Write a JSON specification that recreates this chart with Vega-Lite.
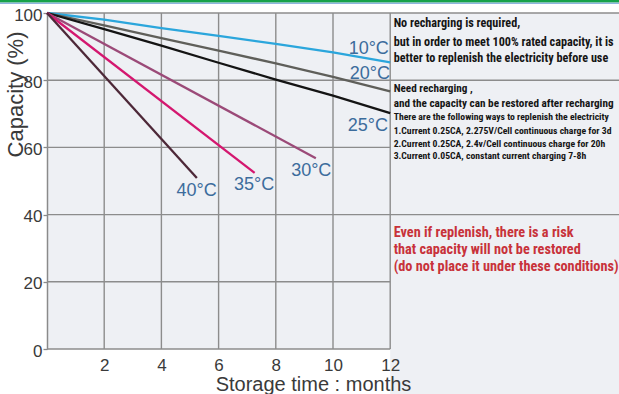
{
  "$schema": "https://vega.github.io/schema/vega-lite/v6.json",
  "width": 572,
  "height": 336,
  "autosize": {"type": "none"},
  "padding": {"left": 47, "top": 13, "right": 0, "bottom": 45},
  "background": "white",
  "config": {"view": {"fill": "#eef0f4", "stroke": null}, "font": "Liberation Sans"},
  "datasets": {
    "grid": [
      {"month": 2, "month2": 2, "capacity": 0, "capacity2": 100},
      {"month": 4, "month2": 4, "capacity": 0, "capacity2": 100},
      {"month": 6, "month2": 6, "capacity": 0, "capacity2": 100},
      {"month": 8, "month2": 8, "capacity": 0, "capacity2": 100},
      {"month": 10, "month2": 10, "capacity": 0, "capacity2": 100},
      {"month": 12, "month2": 12, "capacity": 0, "capacity2": 100},
      {"month": 0, "month2": 12, "capacity": 20, "capacity2": 20},
      {"month": 0, "month2": 20, "capacity": 40, "capacity2": 40},
      {"month": 0, "month2": 12, "capacity": 60, "capacity2": 60},
      {"month": 0, "month2": 20, "capacity": 80, "capacity2": 80},
      {"month": 0, "month2": 20, "capacity": 100, "capacity2": 100},
      {"month": 0, "month2": 12, "capacity": 0, "capacity2": 0}
    ],
    "panelbg": [{"month": 12, "month2": 20.1, "capacity": -13.6, "capacity2": 0}],
    "greenband": [{"month": -1.7, "month2": 20.1, "capacity": 103.1, "capacity2": 104.2}],
    "blueband": [{"month": -1.7, "month2": 20.1, "capacity": 102.75, "capacity2": 103.05}],
    "curves": [
      {"month": 0, "capacity": 100, "temp": "10°C"},
      {"month": 2, "capacity": 98.0, "temp": "10°C"},
      {"month": 4, "capacity": 95.5, "temp": "10°C"},
      {"month": 6, "capacity": 93.2, "temp": "10°C"},
      {"month": 8, "capacity": 90.8, "temp": "10°C"},
      {"month": 10, "capacity": 88.3, "temp": "10°C"},
      {"month": 12, "capacity": 85.3, "temp": "10°C"},
      {"month": 0, "capacity": 100, "temp": "20°C"},
      {"month": 2, "capacity": 96.3, "temp": "20°C"},
      {"month": 4, "capacity": 92.5, "temp": "20°C"},
      {"month": 6, "capacity": 88.8, "temp": "20°C"},
      {"month": 8, "capacity": 85.0, "temp": "20°C"},
      {"month": 10, "capacity": 81.0, "temp": "20°C"},
      {"month": 12, "capacity": 76.7, "temp": "20°C"},
      {"month": 0, "capacity": 100, "temp": "25°C"},
      {"month": 2, "capacity": 95.2, "temp": "25°C"},
      {"month": 4, "capacity": 90.3, "temp": "25°C"},
      {"month": 6, "capacity": 85.2, "temp": "25°C"},
      {"month": 8, "capacity": 80.2, "temp": "25°C"},
      {"month": 10, "capacity": 75.4, "temp": "25°C"},
      {"month": 12, "capacity": 70.2, "temp": "25°C"},
      {"month": 0, "capacity": 100, "temp": "30°C"},
      {"month": 9.4, "capacity": 56.8, "temp": "30°C"},
      {"month": 0, "capacity": 100, "temp": "35°C"},
      {"month": 7.26, "capacity": 52.4, "temp": "35°C"},
      {"month": 0, "capacity": 100, "temp": "40°C"},
      {"month": 5.24, "capacity": 50.9, "temp": "40°C"}
    ],
    "templabels": [
      {"month": 11.25, "capacity": 89.3, "label": "10°C"},
      {"month": 11.29, "capacity": 81.9, "label": "20°C"},
      {"month": 11.22, "capacity": 66.5, "label": "25°C"},
      {"month": 9.24, "capacity": 52.9, "label": "30°C"},
      {"month": 7.24, "capacity": 48.9, "label": "35°C"},
      {"month": 5.23, "capacity": 46.9, "label": "40°C"}
    ],
    "block1": [
      {"month": 12.12, "capacity": 97.0, "line": "No recharging is required,"},
      {"month": 12.12, "capacity": 91.5, "line": "but in order to meet 100% rated capacity, it is"},
      {"month": 12.12, "capacity": 86.7, "line": "better to replenish the electricity before use"}
    ],
    "block1b": [
      {"month": 12.12, "capacity": 77.3, "line": "Need recharging ,"},
      {"month": 12.12, "capacity": 72.9, "line": "and the capacity can be restored after recharging"}
    ],
    "block2": [
      {"month": 12.12, "capacity": 68.9, "line": "There are the following ways to replenish the electricity"},
      {"month": 12.12, "capacity": 65.0, "line": "1.Current 0.25CA, 2.275V/Cell continuous charge for 3d"},
      {"month": 12.12, "capacity": 61.1, "line": "2.Current 0.25CA, 2.4v/Cell continuous charge for 20h"},
      {"month": 12.12, "capacity": 57.3, "line": "3.Current 0.05CA, constant current charging 7-8h"}
    ],
    "block3": [
      {"month": 12.12, "capacity": 34.5, "line": "Even if replenish, there is a risk"},
      {"month": 12.12, "capacity": 29.6, "line": "that capacity will not be restored"},
      {"month": 12.12, "capacity": 24.4, "line": "(do not place it under these conditions)"}
    ]
  },
  "encoding": {
    "x": {
      "field": "month", "type": "quantitative",
      "scale": {"domain": [0, 20], "nice": false, "zero": false},
      "axis": {
        "values": [2, 4, 6, 8, 10, 12], "domain": false, "ticks": false, "grid": false, "zindex": 1,
        "labelFontSize": 17, "labelColor": "#3a3a3a", "labelPadding": 8, "labelFlush": false,
        "title": "Storage time : months", "titleFontSize": 20, "titleFontWeight": "normal",
        "titleColor": "#3a3a3a", "titleX": 266, "titleY": 41, "titleAlign": "center",
        "titleBaseline": "alphabetic"
      }
    },
    "y": {
      "field": "capacity", "type": "quantitative",
      "scale": {"domain": [0, 100], "nice": false, "zero": false},
      "axis": {
        "values": [0, 20, 40, 60, 80, 100], "domain": true, "domainColor": "#8a8a8a", "domainWidth": 1.5,
        "ticks": true, "tickSize": 4, "tickColor": "#8a8a8a", "tickWidth": 1.3, "grid": false,
        "labelFontSize": 17, "labelColor": "#3a3a3a", "labelPadding": 1, "labelOffset": 2, "labelFlush": false,
        "title": "Capacity (%)", "titleFontSize": 22, "titleFontWeight": "normal", "titleColor": "#3a3a3a",
        "titleX": -32, "titleY": 81, "titleAlign": "center", "titleBaseline": "middle", "titleAngle": 270
      }
    }
  },
  "layer": [
    {
      "data": {"name": "panelbg"},
      "mark": {"type": "rect", "fill": "#eef0f4"},
      "encoding": {"x2": {"field": "month2"}, "y2": {"field": "capacity2"}}
    },
    {
      "data": {"name": "greenband"},
      "mark": {"type": "rect", "fill": "#17a24a"},
      "encoding": {"x2": {"field": "month2"}, "y2": {"field": "capacity2"}}
    },
    {
      "data": {"name": "blueband"},
      "mark": {"type": "rect", "fill": "#6a9bd6"},
      "encoding": {"x2": {"field": "month2"}, "y2": {"field": "capacity2"}}
    },
    {
      "data": {"name": "grid"},
      "mark": {"type": "rule", "color": "#8c8c8c", "strokeWidth": 1.4},
      "encoding": {"x2": {"field": "month2"}, "y2": {"field": "capacity2"}}
    },
    {
      "data": {"name": "curves"},
      "mark": {"type": "line", "strokeWidth": 2.3},
      "encoding": {
        "color": {
          "field": "temp", "type": "nominal", "legend": null,
          "scale": {
            "domain": ["10°C", "20°C", "25°C", "30°C", "35°C", "40°C"],
            "range": ["#2ba6dc", "#5f5f5a", "#141414", "#9b4a78", "#d4176f", "#4d2838"]
          }
        },
        "order": {"field": "month", "type": "quantitative"}
      }
    },
    {
      "data": {"name": "templabels"},
      "mark": {"type": "text", "fontSize": 18, "color": "#3c6c9c", "align": "center", "baseline": "middle"},
      "encoding": {"text": {"field": "label"}}
    },
    {
      "data": {"name": "block1"},
      "mark": {"type": "text", "font": "Roboto Condensed, Liberation Sans", "fontWeight": "bold", "fontSize": 12.2, "color": "#151515", "align": "left", "baseline": "middle"},
      "encoding": {"text": {"field": "line"}}
    },
    {
      "data": {"name": "block1b"},
      "mark": {"type": "text", "font": "Roboto Condensed, Liberation Sans", "fontWeight": "bold", "fontSize": 11.2, "color": "#151515", "align": "left", "baseline": "middle"},
      "encoding": {"text": {"field": "line"}}
    },
    {
      "data": {"name": "block2"},
      "mark": {"type": "text", "font": "Roboto Condensed, Liberation Sans", "fontWeight": "bold", "fontSize": 9.7, "color": "#151515", "align": "left", "baseline": "middle"},
      "encoding": {"text": {"field": "line"}}
    },
    {
      "data": {"name": "block3"},
      "mark": {"type": "text", "font": "Roboto Condensed, Liberation Sans", "fontWeight": "bold", "fontSize": 14.3, "color": "#c8323a", "align": "left", "baseline": "middle"},
      "encoding": {"text": {"field": "line"}}
    }
  ]
}
